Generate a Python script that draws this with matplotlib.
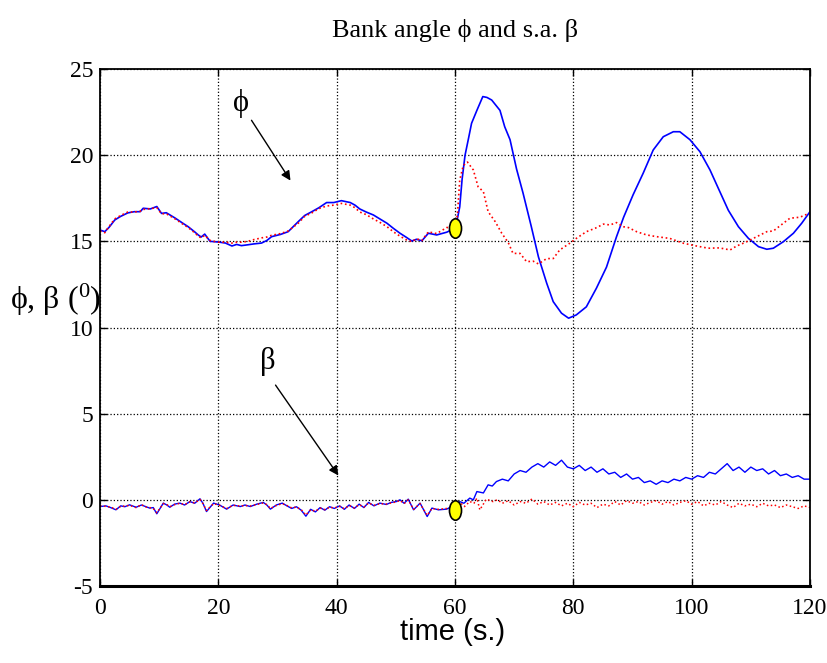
import matplotlib
matplotlib.use("Agg")
import matplotlib.pyplot as plt
from matplotlib.markers import MarkerStyle
from matplotlib.transforms import Affine2D

plt.rcParams["mathtext.fontset"] = "custom"
plt.rcParams["mathtext.rm"] = "Liberation Serif"
plt.rcParams["mathtext.it"] = "Liberation Serif:italic"

SERIF = ["Liberation Serif", "DejaVu Serif"]
NARROW = ["Liberation Sans Narrow", "Liberation Sans", "DejaVu Sans"]

# ---- bank angle phi (deg) ----
t_phi_b = [0, 0.8, 1.5, 2.5, 3.5, 4.7, 5.8, 6.8, 7.3, 8.5, 9.6, 10.4, 11.2, 12.7, 14.0,
           14.9, 16.0, 16.6, 17.1, 17.7, 18.6, 20, 21.2, 22.3, 23.1, 23.9, 25, 26, 27.3,
           28.2, 29, 30.5, 31.8, 33.5, 34.6, 35.8, 37, 38.3, 39.5, 40.8, 42.3, 43.1, 43.9,
           45, 46.2, 47.3, 48.5, 49.6, 50.7, 51.7, 52.7, 53.5, 54.4, 55.5, 56.9, 58.6, 59.4,
           60, 60.4, 60.8, 61.2, 61.7, 62.3, 62.8, 63.7, 64.7, 65.4, 66.2, 67.6, 68.4, 69.3,
           70.4, 71.5, 72.9, 74.1, 75.5, 76.6, 78, 79.2, 80.5, 82.2, 83.9, 85.6, 87.3, 88.5,
           90.1, 91.8, 93.5, 95.2, 96.9, 98, 99.7, 101.4, 103.1, 104.5, 106.2, 107.9, 109.6,
           111.3, 112.7, 113.8, 115.5, 117.2, 118.6, 120]
phi_b = [15.66, 15.56, 15.8, 16.24, 16.45, 16.65, 16.72, 16.72, 16.92, 16.88, 17.02, 16.62,
         16.66, 16.35, 16.05, 15.85, 15.55, 15.37, 15.25, 15.42, 15.0, 14.96, 14.9, 14.73,
         14.82, 14.75, 14.8, 14.85, 14.9, 15.05, 15.27, 15.4, 15.56, 16.14, 16.5, 16.72,
         16.95, 17.25, 17.25, 17.36, 17.25, 17.1, 16.88, 16.7, 16.53, 16.3, 16.05, 15.75,
         15.47, 15.25, 15.02, 15.12, 15.03, 15.47, 15.37, 15.53, 15.66, 15.85, 16.3, 17.0,
         18.6, 20.0, 21.0, 21.85, 22.6, 23.4, 23.35, 23.2, 22.6, 21.65, 20.9, 19.2, 17.8,
         15.85, 14.1, 12.57, 11.5, 10.83, 10.54, 10.73, 11.2, 12.28, 13.5, 15.27, 16.4,
         17.7, 18.95, 20.3, 21.07, 21.36, 21.36, 20.9, 20.2, 19.14, 18.08, 16.8, 15.85,
         15.17, 14.69, 14.54, 14.6, 14.98, 15.47, 16.05, 16.72]

t_phi_r = [0, 0.8, 1.5, 2.5, 3.5, 4.7, 5.8, 6.8, 7.3, 8.5, 9.6, 10.4, 11.2, 12.7, 14.0,
           14.9, 16.0, 16.6, 17.1, 17.7, 18.6, 20, 21.2, 22.3, 23.1, 23.9, 25, 26, 27.3,
           28.2, 29, 30.5, 31.8, 33.5, 34.6, 35.8, 37, 38.3, 39.5, 40.8, 42.3, 43.1, 43.9,
           45, 46.2, 47.3, 48.5, 49.6, 50.7, 51.7, 52.7, 53.5, 54.4, 55.5, 56.9, 58.6, 59.4,
           60, 60.4, 60.8, 61.4, 62.1, 63.1, 63.9, 64.8, 65.6, 66.8, 67.9, 69, 69.8, 71,
           72.1, 73.2, 74.1, 75.5, 76.6, 77.7, 79.4, 80.5, 82.2, 83.7, 85.1, 86.2, 87.3,
           88.4, 89.3, 90.7, 92.4, 94.1, 96.3, 98.6, 100.8, 102.8, 104.7, 106.5, 107.6, 109,
           111, 112.7, 113.8, 115.5, 116.6, 118.3, 120]
phi_r = [15.6, 15.5, 15.85, 16.3, 16.5, 16.7, 16.7, 16.75, 16.85, 16.9, 16.95, 16.6, 16.6,
         16.3, 16.0, 15.8, 15.5, 15.3, 15.2, 15.35, 15.05, 14.95, 14.95, 14.9, 14.95, 14.95,
         15.0, 15.1, 15.2, 15.25, 15.35, 15.45, 15.6, 16.05, 16.45, 16.65, 16.9, 17.05,
         17.1, 17.2, 17.1, 16.95, 16.7, 16.55, 16.3, 16.1, 15.85, 15.55, 15.3, 15.1, 14.98,
         15.15, 15.05, 15.55, 15.45, 15.8, 15.8, 15.9, 16.5, 18.56, 19.4, 19.6, 19.14,
         18.17, 17.88, 16.72, 16.14, 15.47, 14.93, 14.3, 14.3, 13.82, 13.85, 13.69, 14.0,
         14.0, 14.5, 14.89, 15.17, 15.56, 15.76, 16.0, 15.95, 16.09, 15.85, 15.8, 15.56,
         15.37, 15.27, 15.17, 14.89, 14.73, 14.6, 14.62, 14.5, 14.73, 14.93, 15.27, 15.56,
         15.6, 16.05, 16.34, 16.4, 16.65]

# ---- sideslip angle beta (deg) ----
t_beta_pre = [0, 1, 1.8, 2.7, 3.5, 4.2, 5, 6.1, 7, 7.8, 8.4, 9, 9.6, 10.7, 11.3, 11.8, 12.6,
              13.5, 14.3, 15.2, 16, 16.9, 17.4, 18, 19.2, 20.2, 21.4, 22.5, 23.7, 24.5,
              25.4, 26.5, 27.6, 28.2, 28.8, 29.8, 30.8, 31.6, 32.4, 33.2, 34, 34.8, 35.6,
              36.4, 37.2, 38, 38.8, 39.6, 40.5, 41.3, 42.1, 43, 43.8, 44.6, 45.4, 46.3,
              47.3, 48.4, 49.2, 50.1, 50.7, 51.4, 52.1, 53.0, 54.1, 55.3, 56.1, 57.2, 58.6,
              59.4, 60]
beta_b_pre = [-0.39, -0.35, -0.45, -0.58, -0.35, -0.4, -0.29, -0.43, -0.3, -0.4, -0.48,
              -0.45, -0.81, -0.19, -0.3, -0.43, -0.25, -0.19, -0.3, -0.1, -0.2, 0.06, -0.2,
              -0.68, -0.19, -0.3, -0.54, -0.3, -0.39, -0.3, -0.39, -0.25, -0.15, -0.3, -0.54,
              -0.3, -0.19, -0.35, -0.5, -0.4, -0.6, -0.95, -0.55, -0.7, -0.45, -0.6, -0.4,
              -0.5, -0.35, -0.55, -0.3, -0.5, -0.25, -0.45, -0.15, -0.35, -0.19, -0.27,
              -0.15, -0.1, 0.0, -0.2, 0.04, -0.58, -0.19, -0.97, -0.48, -0.58, -0.54, -0.39,
              -0.58]
beta_r_pre = [-0.35, -0.38, -0.42, -0.55, -0.38, -0.36, -0.32, -0.45, -0.28, -0.42, -0.45,
              -0.5, -0.75, -0.22, -0.28, -0.4, -0.28, -0.2, -0.28, -0.12, -0.18, 0.02, -0.22,
              -0.62, -0.22, -0.32, -0.5, -0.32, -0.36, -0.33, -0.36, -0.27, -0.18, -0.28,
              -0.5, -0.33, -0.22, -0.33, -0.47, -0.42, -0.57, -0.88, -0.58, -0.66, -0.48,
              -0.57, -0.43, -0.47, -0.38, -0.52, -0.33, -0.47, -0.28, -0.42, -0.18, -0.32,
              -0.22, -0.25, -0.18, -0.12, -0.03, -0.22, 0.0, -0.55, -0.22, -0.9, -0.5, -0.55,
              -0.5, -0.42, -0.58]

t_beta_b_post = [60.8, 61.5, 62.5, 63.1, 63.7, 64.8, 65.6, 66.3, 67, 68, 69, 70, 71, 72, 73,
                 74, 75, 76, 77, 78, 79, 80, 81, 82, 83, 84, 85, 86, 87, 88, 89, 90, 91, 92,
                 93, 94, 95, 96, 97, 98, 99, 100, 101, 102, 103, 104, 105, 106, 107, 108,
                 109, 110, 111, 112, 113, 114, 115, 116, 117, 118, 119, 120]
beta_b_post = [-0.1, -0.2, 0.1, 0.0, 0.48, 0.4, 0.87, 0.8, 1.06, 1.2, 1.1, 1.5, 1.7, 1.6,
               1.9, 2.1, 1.9, 2.2, 2.0, 2.3, 1.9, 1.8, 2.0, 1.7, 1.9, 1.6, 1.8, 1.5, 1.6, 1.3,
               1.5, 1.2, 1.3, 1.0, 1.1, 0.9, 1.1, 1.0, 1.2, 1.1, 1.3, 1.2, 1.4, 1.3, 1.6, 1.5,
               1.8, 2.1, 1.7, 1.9, 1.6, 1.9, 1.7, 1.8, 1.5, 1.7, 1.4, 1.5, 1.3, 1.4, 1.2, 1.2]

t_beta_r_post = [60.5, 61, 61.6, 62.5, 63.2, 63.7, 64.2, 65.3, 66.4, 67.2, 68, 69, 70, 71,
                 72, 73, 74, 75, 76, 77, 78, 79, 80, 81, 82, 83, 84, 85, 86, 87, 88, 89, 90,
                 91, 92, 93, 94, 95, 96, 97, 98, 99, 100, 101, 102, 103, 104, 105, 106, 107,
                 108, 109, 110, 111, 112, 113, 114, 115, 116, 117, 118, 119, 120]
beta_r_post = [-0.5, -0.2, -0.39, -0.1, -0.2, 0.1, -0.58, 0.04, -0.1, 0.0, -0.2, -0.05,
               -0.3, -0.1, -0.2, 0.05, -0.25, -0.1, -0.3, -0.15, -0.35, -0.2, -0.4, -0.15,
               -0.3, -0.2, -0.45, -0.25, -0.35, -0.1, -0.3, -0.05, -0.2, -0.1, -0.3, -0.15,
               -0.05, -0.25, -0.1, -0.3, -0.15, -0.05, -0.25, -0.1, -0.35, -0.2, -0.3, -0.1,
               -0.3, -0.45, -0.2, -0.35, -0.25, -0.4, -0.2, -0.35, -0.3, -0.45, -0.3, -0.4,
               -0.5, -0.35, -0.45]

# switching instant (yellow markers)
t_switch = 60
phi_switch = 15.8
beta_switch = -0.6

x_ticks = [0, 20, 40, 60, 80, 100, 120]
y_ticks = [-5, 0, 5, 10, 15, 20, 25]

fig = plt.figure(figsize=(8.27, 6.63), dpi=100)
ax = fig.add_axes([100 / 827, 1 - 586 / 663, 710 / 827, 517 / 663])

ax.plot(t_phi_b, phi_b, color="#0000ff", lw=1.2)
ax.plot(t_phi_r, phi_r, color="#ff0000", lw=1.2, ls=":")
ax.plot(t_beta_pre + t_beta_b_post, beta_b_pre + beta_b_post, color="#0000ff", lw=1.0)
ax.plot(t_beta_pre + t_beta_r_post, beta_r_pre + beta_r_post, color="#ff0000", lw=1.1, ls=":")

ell = MarkerStyle("o", transform=Affine2D().scale(0.62, 1.0))
ax.plot([t_switch, t_switch], [phi_switch, beta_switch], ls="none", marker=ell,
        markersize=14, markerfacecolor="#ffff00", markeredgecolor="k", markeredgewidth=1.2,
        zorder=5)

ax.set_xlim(0, 120)
ax.set_ylim(-5, 25)
ax.set_xticks(x_ticks)
ax.set_yticks(y_ticks)
ax.set_xticklabels([str(v) for v in x_ticks], family=SERIF, fontsize=17)
ax.set_yticklabels([str(v) for v in y_ticks], family=SERIF, fontsize=17)
ax.tick_params(direction="in", length=5, width=1, top=True, right=True)
ax.tick_params(axis="x", pad=9)
ax.tick_params(axis="y", pad=5)
ax.grid(True, color="k", ls=":", lw=0.9)
for s in ax.spines.values():
    s.set_linewidth(1.3)
ax.spines["bottom"].set_linewidth(2.2)

# curve labels with arrows
ax.text(23.8, 23.0, "ϕ", family=SERIF, fontsize=22, ha="center", va="center")
ax.annotate("", xy=(32.45, 18.39), xytext=(25.35, 22.16),
            arrowprops=dict(arrowstyle="-|>", color="k", lw=1.0, mutation_scale=14))
ax.text(28.4, 8.0, "β", family=SERIF, fontsize=22, ha="center", va="center")
ax.annotate("", xy=(40.56, 1.28), xytext=(29.4, 6.79),
            arrowprops=dict(arrowstyle="-|>", color="k", lw=1.0, mutation_scale=14))

fig.text(455 / 827, 1 - 31 / 663, "Bank angle ϕ and s.a. β", family=SERIF, fontsize=19,
         ha="center", va="center")
fig.text(10 / 827, 1 - 300 / 663, r"ϕ, β ($^{0}$)", family=SERIF, fontsize=23,
         ha="left", va="center")
fig.text(453 / 827, 1 - 632 / 663, "time (s.)", family=NARROW, fontsize=21,
         ha="center", va="center")

fig.savefig("out.png", dpi=100)
